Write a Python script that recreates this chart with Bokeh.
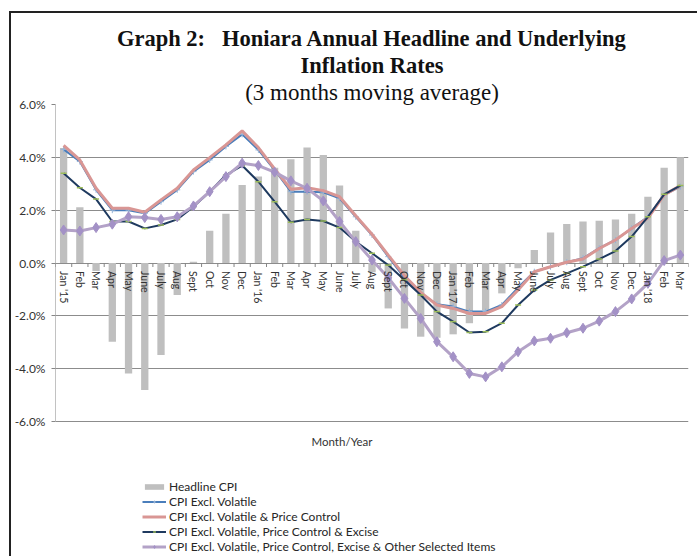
import math
from bokeh.plotting import figure
from bokeh.models import (ColumnDataSource, Title, Legend, LegendItem, FixedTicker,
                          PrintfTickFormatter, Range1d)
from bokeh.core.properties import value
from bokeh.embed import file_html
from bokeh.resources import INLINE

months = ["Jan '15", "Feb", "Mar", "Apr", "May", "June", "July", "Aug", "Sept", "Oct", "Nov", "Dec",
          "Jan '16", "Feb", "Mar", "Apr", "May", "June", "July", "Aug", "Sept", "Oct", "Nov", "Dec",
          "Jan '17", "Feb", "Mar", "Apr", "May", "June", "July", "Aug", "Sept", "Oct", "Nov", "Dec",
          "Jan '18", "Feb", "Mar"]

headline_cpi = [4.35, 2.11, -0.30, -2.98, -4.18, -4.81, -3.48, -1.21, 0.05, 1.22, 1.86, 2.95,
                3.27, 3.61, 3.93, 4.37, 4.09, 2.93, 1.22, -0.35, -1.72, -2.48, -2.79, -2.83,
                -2.70, -2.28, -1.78, -1.15, -0.20, 0.49, 1.15, 1.48, 1.57, 1.60, 1.65, 1.86,
                2.51, 3.61, 4.00]

excl_volatile = [4.30, 3.84, 2.77, 2.00, 2.00, 1.88, 2.32, 2.77, 3.46, 3.90, 4.41, 4.87,
                 4.28, 3.52, 2.70, 2.70, 2.68, 2.45, 1.75, 1.06, 0.24, -0.56, -1.15, -1.56,
                 -1.65, -1.84, -1.84, -1.59, -0.93, -0.33, -0.14, 0.03, 0.18, 0.56, 0.87, 1.31,
                 1.75, 2.58, 2.89]

excl_vol_price = [4.45, 3.90, 2.83, 2.07, 2.07, 1.92, 2.39, 2.83, 3.52, 3.99, 4.47, 5.00,
                  4.37, 3.56, 2.79, 2.85, 2.74, 2.51, 1.79, 1.09, 0.30, -0.48, -1.11, -1.59,
                  -1.72, -1.91, -1.91, -1.65, -1.02, -0.33, -0.14, 0.03, 0.15, 0.55, 0.87, 1.31,
                  1.70, 2.58, 2.93]

excl_vol_price_excise = [3.40, 2.85, 2.42, 1.57, 1.57, 1.31, 1.44, 1.65, 2.13, 2.70, 3.33, 3.69,
                         3.08, 2.32, 1.54, 1.65, 1.59, 1.34, 0.81, 0.37, -0.08, -0.64, -1.21, -1.84,
                         -2.22, -2.63, -2.60, -2.28, -1.59, -1.02, -0.64, -0.39, -0.14, 0.15, 0.45, 1.00,
                         1.75, 2.60, 2.93]

excl_vol_price_excise_other = [1.25, 1.21, 1.34, 1.47, 1.75, 1.72, 1.65, 1.75, 2.16, 2.70, 3.27, 3.78,
                               3.69, 3.44, 3.11, 2.83, 2.35, 1.57, 0.81, 0.11, -0.56, -1.34, -2.10, -2.98,
                               -3.55, -4.18, -4.31, -3.93, -3.36, -2.95, -2.85, -2.64, -2.47, -2.20, -1.84, -1.36,
                               -0.77, 0.09, 0.30]

y_ticks = [-6, -4, -2, 0, 2, 4, 6]
x_axis_title = "Month/Year"

# ---- layout (pixels) ----
band_px = 317      # height of the -6%..6% band
below_px = 135     # space below the band for the axis title and legend (inside the frame)
frame_w = 633
tick_depth_px = 4

y_lo, y_hi = y_ticks[0], y_ticks[-1]
px_per_unit = band_px / (y_hi - y_lo)
y_start = y_lo - below_px / px_per_unit
tick_depth = tick_depth_px / px_per_unit

idx = list(range(len(months)))
x_start, x_end = idx[0] - 0.5, idx[-1] + 0.5
src = ColumnDataSource(dict(x=idx, label=months, zero=[0] * len(idx),
                            hcpi=headline_cpi, v1=excl_volatile, v2=excl_vol_price,
                            v3=excl_vol_price_excise, v4=excl_vol_price_excise_other))
bounds = [x_start] + [i + 0.5 for i in idx]
bsrc = ColumnDataSource(dict(x=bounds, y0=[0] * len(bounds), y1=[-tick_depth] * len(bounds)))

p = figure(frame_width=frame_w, frame_height=band_px + below_px,
           output_backend="svg", toolbar_location=None, x_axis_location=None,
           x_range=Range1d(x_start, x_end), y_range=Range1d(y_start, y_hi),
           min_border_left=43, min_border_right=10, min_border_top=91, min_border_bottom=0)
p.margin = (11, 0, 0, 9)
p.outline_line_color = None
p.background_fill_color = "white"
p.border_fill_color = "white"
p.styles = {"border-top": "2px solid #222222", "border-left": "2px solid #222222"}

# titles: p.title is outermost, later-added titles sit closer to the plot
serif = "Liberation Serif"
p.title.text = "Graph 2:\u00a0\u00a0 Honiara Annual Headline and Underlying"
p.title.align = "center"
p.title.text_font = serif
p.title.text_font_style = "bold"
p.title.text_font_size = "22.5px"
p.title.text_color = "#111111"
p.title.standoff = 0
p.add_layout(Title(text="(3 months moving average)", align="center", text_font=serif,
                   text_font_style="normal", text_font_size="23px", text_color="#111111",
                   standoff=0), "above")
p.add_layout(Title(text="Inflation Rates", align="center", text_font=serif,
                   text_font_style="bold", text_font_size="22.5px", text_color="#111111",
                   standoff=0), "above")

# y axis
p.yaxis.ticker = FixedTicker(ticks=y_ticks)
p.yaxis.formatter = PrintfTickFormatter(format="%.1f%%")
p.yaxis.major_label_text_font = "Lato"
p.yaxis.major_label_text_font_size = "12px"
p.yaxis.major_label_text_color = "#333333"
p.yaxis.axis_line_color = None
p.yaxis.major_tick_line_color = "#868686"
p.yaxis.major_tick_out = 4
p.yaxis.major_tick_in = 0
p.yaxis.minor_tick_line_color = None
p.yaxis.major_label_standoff = 6
p.segment(x0=[x_start], x1=[x_start], y0=[y_lo], y1=[y_hi], line_color="#868686", line_width=1)

p.xgrid.grid_line_color = None
p.ygrid.ticker = FixedTicker(ticks=y_ticks)
p.ygrid.grid_line_color = "#8C8C8C"
p.ygrid.grid_line_width = 1

# bars
r_bar = p.vbar(x="x", top="hcpi", bottom=0, width=0.45, source=src,
               fill_color="#BFBFBF", line_color=None)

# category tick marks on the zero line
p.segment(x0="x", x1="x", y0="y0", y1="y1", source=bsrc, line_color="#868686")

# lines
r1 = p.line("x", "v1", source=src, line_color="#4A7EBB", line_width=2)
m1 = p.scatter("x", "v1", source=src, marker="cross", size=6, line_color="#95B3D7", line_width=1)
r2 = p.line("x", "v2", source=src, line_color="#D99694", line_width=3)
r3 = p.line("x", "v3", source=src, line_color="#1F3A5F", line_width=2)
m3 = p.scatter("x", "v3", source=src, marker="dash", size=6, line_color="#9BBB59", line_width=1.5)
r4 = p.line("x", "v4", source=src, line_color="#B3A2C7", line_width=3)
m4 = p.scatter("x", "v4", source=src, marker="diamond", size=10, fill_color="#A391C6",
               line_color="#A391C6")

# x tick labels on the zero line
p.text(x="x", y="zero", text="label", source=src, angle=-math.pi / 2,
       text_align="left", text_baseline="middle", y_offset=8,
       text_font=value("Lato"), text_font_size="10.5px", text_color="#333333")

# x axis title
p.text(x=[(x_start + x_end) / 2], y=[y_lo], text=[x_axis_title], x_offset=-30, y_offset=20,
       text_align="center", text_baseline="middle",
       text_font=value("Lato"), text_font_size="11.5px", text_color="#333333")

legend = Legend(items=[
    LegendItem(label="Headline CPI", renderers=[r_bar]),
    LegendItem(label="CPI Excl. Volatile", renderers=[r1, m1]),
    LegendItem(label="CPI Excl. Volatile & Price Control", renderers=[r2]),
    LegendItem(label="CPI Excl. Volatile, Price Control & Excise", renderers=[r3, m3]),
    LegendItem(label="CPI Excl. Volatile, Price Control, Excise & Other Selected Items", renderers=[r4, m4]),
], location=(87, 2), orientation="vertical", padding=0, margin=0,
    border_line_color=None, background_fill_alpha=0,
    glyph_width=24, glyph_height=7, label_height=13, spacing=0, label_standoff=3,
    label_text_font="Lato", label_text_font_size="12px", label_text_color="#262626")
p.add_layout(legend, "center")

open("out.html", "w").write(file_html(p, INLINE))
